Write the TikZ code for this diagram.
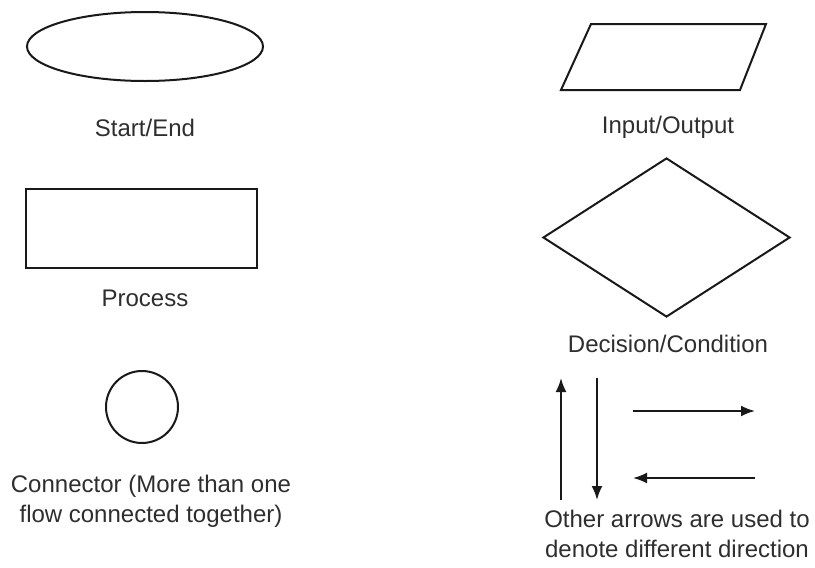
\documentclass[tikz,border=0pt]{standalone}
\usepackage{fontspec}
\setmainfont{Liberation Sans}
\usetikzlibrary{shapes.geometric,arrows.meta}

\begin{document}
\begin{tikzpicture}[
    x=1pt, y=-1pt,
    symbol/.style={draw=black!90, line width=2pt, inner sep=0pt},
    caption/.style={font=\fontsize{24}{30}\selectfont, text=black!82, align=center, inner sep=0pt, anchor=base},
    flow/.style={draw=black!90, line width=2pt, -{Latex[length=14pt,width=11pt]}}
]
\useasboundingbox (0,0) rectangle (815,568);

\node[symbol, ellipse, minimum width=236pt, minimum height=69pt] (startend) at (145,46.5) {};
\node[caption] (startendtxt) at (145,136) {Start/End};

\node[symbol, rectangle, minimum width=231pt, minimum height=79pt] (process) at (141.5,228.5) {};
\node[caption] (processtxt) at (145,306) {Process};

\node[symbol, circle, minimum size=72pt] (connector) at (142,407) {};
\node[caption] (connectortxt) at (151,522) {Connector (More than one\\flow connected together)};

\draw[symbol] (561,90) -- (591,24) -- (766,24) -- (740,90) -- cycle;
\node[caption] (iotxt) at (668,133) {Input/Output};

\node[symbol, diamond, minimum width=247pt, minimum height=159pt] (decision) at (666.5,237.5) {};
\node[caption] (decisiontxt) at (668,352) {Decision/Condition};

\coordinate (upS) at (561,500);
\coordinate (upE) at (561,378);
\coordinate (downS) at (597,378);
\coordinate (downE) at (597,500);
\coordinate (rightS) at (633,411);
\coordinate (rightE) at (755,411);
\coordinate (leftS) at (755,478);
\coordinate (leftE) at (633,478);
\draw[flow] (upS) -- (upE);
\draw[flow] (downS) -- (downE);
\draw[flow] (rightS) -- (rightE);
\draw[flow] (leftS) -- (leftE);
\node[caption] (arrowstxt) at (677,557) {Other arrows are used to\\denote different direction};
\end{tikzpicture}
\end{document}
